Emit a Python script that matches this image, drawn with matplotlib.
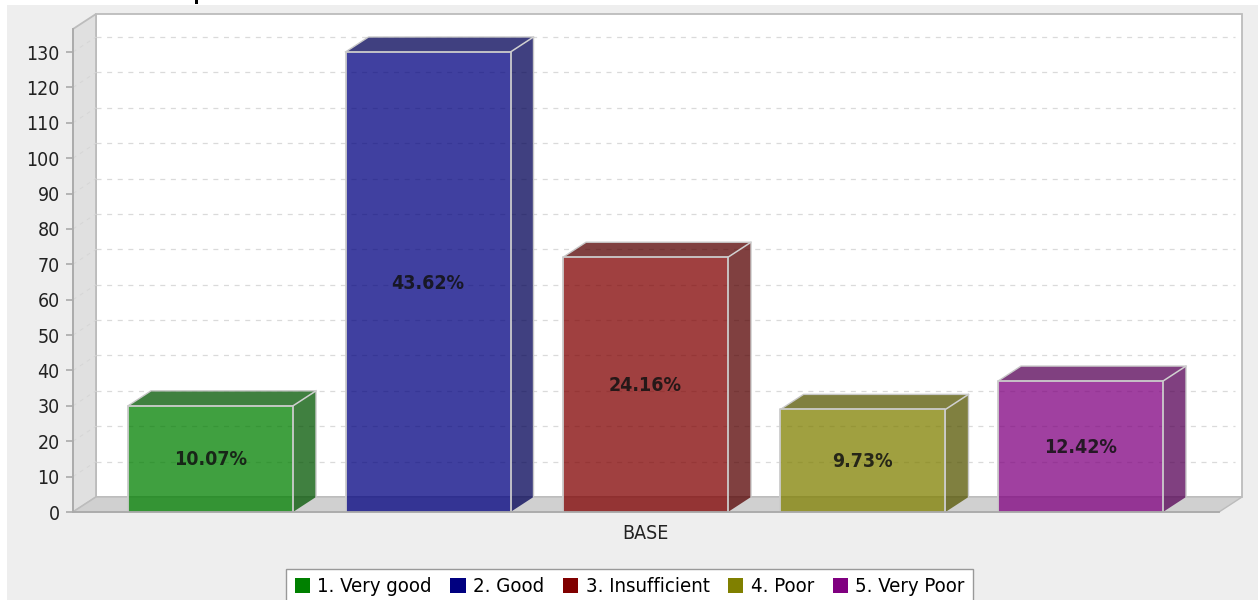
import matplotlib
matplotlib.use('Agg')
import matplotlib.pyplot as plt
from matplotlib.patches import Polygon, Patch, Rectangle

# ==========================================
# data
# ==========================================
categories = ['1. Very good', '2. Good', '3. Insufficient', '4. Poor', '5. Very Poor']
values = [30, 130, 72, 29, 37]
percents = ['10.07%', '43.62%', '24.16%', '9.73%', '12.42%']
bar_colors = ['#008000', '#000080', '#800000', '#808000', '#800080']
side_colors = ['#005500', '#000055', '#550000', '#555500', '#550055']
y_ticks = list(range(0, 140, 10))
group_label = 'BASE'

W, H = 1258, 600
FONT = dict(family='DejaVu Sans', stretch='condensed')

# pixels of the front plane
LEFT, RIGHT, BOTTOM, TOP = 73, 1219, 512, 29
PX_PER_UNIT = 460 / 130
PX_PER_BAR = 217.5
BAR_W = 165 / PX_PER_BAR
DX = 23 / PX_PER_BAR
DY = 15 / PX_PER_UNIT

plt.rcParams['font.family'] = 'DejaVu Sans'
fig = plt.figure(figsize=(W / 100, H / 100), dpi=100, facecolor='white')
fig.patches.append(Rectangle((7 / W, 0), 1 - 7 / W, 1 - 5 / H, transform=fig.transFigure,
                             facecolor='#eeeeee', edgecolor='none', zorder=-5))

ax = fig.add_axes([LEFT / W, 1 - BOTTOM / H, (RIGHT - LEFT) / W, (BOTTOM - TOP) / H])
ax.patch.set_alpha(0)
x0 = 2 + (LEFT - 645.5) / PX_PER_BAR
x1 = 2 + (RIGHT - 645.5) / PX_PER_BAR
y1 = (BOTTOM - TOP) / PX_PER_UNIT
ax.set_xlim(x0, x1)
ax.set_ylim(0, y1)

EDGE = '#bcbcbc'


def poly(pts, face, edge='none', z=1, lw=1.3, alpha=None):
    ax.add_patch(Polygon(pts, closed=True, facecolor=face, edgecolor=edge, linewidth=lw,
                         zorder=z, alpha=alpha, clip_on=False))


# walls and floor
poly([(x0 + DX, DY), (x1 + DX, DY), (x1 + DX, y1 + DY), (x0 + DX, y1 + DY)], 'white', EDGE, 1)
poly([(x0, 0), (x0 + DX, DY), (x0 + DX, y1 + DY), (x0, y1)], '#e0e0e0', EDGE, 1)
poly([(x0, 0), (x1, 0), (x1 + DX, DY), (x0 + DX, DY)], '#d0d0d0', EDGE, 2, lw=1.0)

# grid on the walls
for v in y_ticks[1:]:
    ax.plot([x0 + DX, x1 + DX - 0.03], [v + DY, v + DY], color='#dadada', lw=0.9,
            dashes=(4, 4.5), zorder=1.5, clip_on=False)
    ax.plot([x0, x0 + DX], [v, v + DY], color='#d6d6d6', lw=0.7,
            dashes=(4, 4.5), zorder=1.5, clip_on=False)

# bars
xs = list(range(len(values)))
for x, v, c, s, p in zip(xs, values, bar_colors, side_colors, percents):
    l, r = x - BAR_W / 2, x + BAR_W / 2
    poly([(l, v), (r, v), (r + DX, v + DY), (l + DX, v + DY)], s, 'none', 3, alpha=0.75)
    poly([(r, 0), (r + DX, DY), (r + DX, v + DY), (r, v)], s, 'none', 3, alpha=0.75)
    ax.plot([l, l + DX, r + DX, r + DX], [v, v + DY, v + DY, DY], color='#c8c8c8', lw=1.0,
            zorder=3.5, clip_on=False)
    ax.plot([r, r + DX], [v, v + DY], color='#d0d0d0', lw=1.1, zorder=3.5, clip_on=False)
ax.bar(xs, values, width=BAR_W, color=bar_colors, alpha=0.75, linewidth=0, zorder=4, clip_on=False)
for x, v, p in zip(xs, values, percents):
    l, r = x - BAR_W / 2, x + BAR_W / 2
    ax.plot([l, l, r, r], [0, v, v, 0], color='#cccccc', lw=1.3, zorder=4.5, clip_on=False)
    ax.text(x - 0.002, v / 2 - 0.3, p, ha='center', va='center', fontsize=14, fontweight='bold',
            color='#111111', alpha=0.85, zorder=5, **FONT)

# axes
for side in ['top', 'right']:
    ax.spines[side].set_visible(False)
for side in ['left', 'bottom']:
    ax.spines[side].set_color('#aaaaaa')
    ax.spines[side].set_linewidth(1.3)
    ax.spines[side].set_zorder(6)
ax.set_yticks(y_ticks)
ax.set_xticks([2])
ax.set_xticklabels([group_label], **FONT)
ax.tick_params(axis='y', length=5, width=1.2, color='#aaaaaa', labelsize=14, labelcolor='#222222', pad=4.5)
ax.tick_params(axis='x', length=0, labelsize=14, labelcolor='#222222', pad=8.5)
for lab in ax.get_yticklabels():
    lab.set_family('DejaVu Sans')
    lab.set_stretch('condensed')

# legend
handles = [Patch(facecolor=c, edgecolor='none', label=n) for c, n in zip(bar_colors, categories)]
leg = fig.legend(handles=handles, loc='lower left', bbox_to_anchor=(286 / W, -5 / H), ncol=5,
                 frameon=True, fancybox=False, edgecolor='#999999', facecolor='white', framealpha=1,
                 prop={'size': 14.6, 'family': 'DejaVu Sans', 'stretch': 'condensed'},
                 handlelength=0.75, handleheight=0.75, handletextpad=0.37, columnspacing=0.92,
                 borderpad=0.42, borderaxespad=0)

# stub of the cut off title at the top edge
fig.patches.append(Rectangle((194.5 / W, 1 - 4 / H), 3.5 / W, 4 / H, transform=fig.transFigure,
                             facecolor='black', edgecolor='none', zorder=5))

fig.savefig('out.png', dpi=100, facecolor=fig.get_facecolor())
